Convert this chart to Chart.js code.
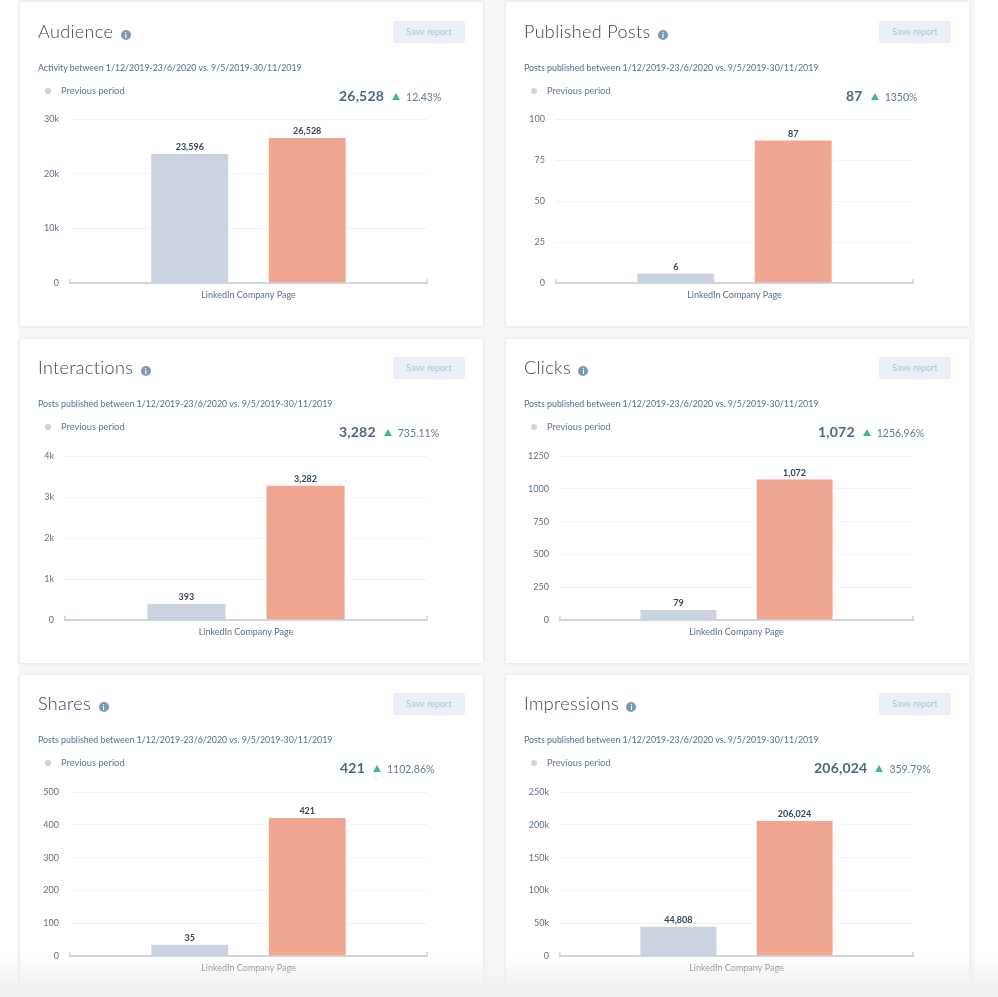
<!DOCTYPE html>
<html lang="en">
<head>
  <meta charset="UTF-8">
  <title>LinkedIn Company Page reports</title>
  <script src="https://cdn.jsdelivr.net/npm/chart.js"></script>
  <style>
    html, body { margin: 0; padding: 0; height: 997px; overflow: hidden; background: #fff; }
    body { font-family: 'Lato', sans-serif; color: #516f90; position: relative; }
    .page { position: absolute; left: 18px; top: 0; width: 957px; height: 997px; background: #f5f8fa; filter: blur(0.4px); }
    .card {
      position: absolute; width: 463px; height: 324px; background: #fff;
      box-shadow: 0 0 4px rgba(45,62,80,0.12);
    }
    .card canvas { position: absolute; left: 0; top: 0; }
    .head { position: absolute; left: 0; width: 463px; height: 110px; z-index: 1; }
    .title {
      position: absolute; left: 18px; top: 16.5px; font-size: 18px; font-weight: 300; line-height: 24px;
      color: #33475b; letter-spacing: 0.35px; white-space: nowrap;
    }
    .info {
      display: inline-block; width: 10px; height: 10px; line-height: 10px; border-radius: 50%;
      margin-left: 7.5px; background: #7c98b6; color: #fff; font-size: 8px; font-weight: 700;
      text-align: center; letter-spacing: 0; vertical-align: 0;
    }
    .save {
      position: absolute; left: 373px; top: 19px; width: 72px; height: 22px; line-height: 22px;
      background: #eaf0f6; color: #b0c1d4; font-size: 9px; text-align: center; border-radius: 2px;
    }
    .sub { position: absolute; left: 18px; top: 60px; font-size: 8.8px; line-height: 12px; white-space: nowrap; }
    .dot { position: absolute; left: 25px; top: 86px; width: 6px; height: 6px; border-radius: 50%; background: #cbd6e2; }
    .legend { position: absolute; left: 41px; top: 83px; font-size: 9.3px; line-height: 12px; color: #5f7a97; }
    .stat { position: absolute; top: 84px; height: 18px; line-height: 18px; white-space: nowrap; }
    .stat b { font-size: 14px; color: #4c6583; letter-spacing: 0.2px; }
    .stat i {
      display: inline-block; width: 0; height: 0; margin: 0 6px 1px 8px;
      border-left: 4.5px solid transparent; border-right: 4.5px solid transparent;
      border-bottom: 7px solid #45b39c;
    }
    .stat span { font-size: 10.5px; color: #5f7a97; }
    .fade {
      position: absolute; left: 0; top: 955px; width: 998px; height: 35px;
      background: linear-gradient(rgba(240,240,240,0), rgba(240,240,240,1));
    }
    .strip { position: absolute; left: 0; top: 990px; width: 998px; height: 7px; background: #f0f0f0; }
  </style>
</head>
<body>
  <div class="page" id="page"></div>
  <div class="fade"></div>
  <div class="strip"></div>

  <script>
    const POSTS = 'Posts published between 1/12/2019-23/6/2020 vs. 9/5/2019-30/11/2019';
    const ACTIVITY = 'Activity between 1/12/2019-23/6/2020 vs. 9/5/2019-30/11/2019';

    const category = 'LinkedIn Company Page';
    const titles = ['Audience', 'Published Posts', 'Interactions', 'Clicks', 'Shares', 'Impressions'];
    const subtitles = [ACTIVITY, POSTS, POSTS, POSTS, POSTS, POSTS];
    const previousValues = [23596, 6, 393, 79, 35, 44808];
    const currentValues = [26528, 87, 3282, 1072, 421, 206024];
    const changes = ['12.43%', '1350%', '735.11%', '1256.96%', '1102.86%', '359.79%'];
    const axisMax = [30000, 100, 4000, 1250, 500, 250000];
    const axisStep = [10000, 25, 1000, 250, 100, 50000];
    const useK = [true, false, true, false, false, true];

    // card position and plot edges, in page pixels
    const cardX = [20, 506, 20, 506, 20, 506];
    const cardY = [2, 2, 339, 339, 675, 675];
    const headY = [0, 0, -1, -1, -1, -1];
    const plotLeft = [70, 556, 65, 560, 70, 560];
    const plotRight = [427, 913, 427, 913, 427, 913];
    const statLeft = [339, 846, 339, 818, 340, 814];

    const CARD_W = 463, CARD_H = 324;
    const PLOT_TOP = 117, PLOT_H = 164, XAXIS_H = 30;
    const FONT = 'Lato';
    const TICK_COLOR = '#5b7086';

    // little upward ticks at both ends of the x axis + value labels over the bars
    const barExtras = {
      id: 'barExtras',
      afterDatasetsDraw(chart) {
        const { ctx, chartArea } = chart;
        ctx.save();
        ctx.strokeStyle = '#cbd6e2';
        ctx.lineWidth = 1.5;
        [chartArea.left, chartArea.right].forEach(x => {
          ctx.beginPath();
          ctx.moveTo(x, chartArea.bottom);
          ctx.lineTo(x, chartArea.bottom - 4);
          ctx.stroke();
        });
        ctx.fillStyle = '#33475b';
        ctx.font = `700 9px ${FONT}`;
        ctx.textAlign = 'center';
        ctx.textBaseline = 'bottom';
        chart.data.datasets.forEach((ds, i) => {
          const bar = chart.getDatasetMeta(i).data[0];
          ctx.fillText(ds.data[0].toLocaleString('en-US'), bar.x, bar.y - 2);
        });
        ctx.restore();
      }
    };

    const page = document.getElementById('page');

    titles.forEach((title, i) => {
      const card = document.createElement('div');
      card.className = 'card';
      card.style.left = (cardX[i] - 18) + 'px';
      card.style.top = cardY[i] + 'px';
      card.innerHTML = `
        <div class="head" style="top:${headY[i]}px">
          <div class="title">${title}<span class="info">i</span></div>
          <div class="save">Save report</div>
          <div class="sub">${subtitles[i]}</div>
          <div class="dot"></div>
          <div class="legend">Previous period</div>
          <div class="stat" style="left:${statLeft[i] - cardX[i]}px"><b>${currentValues[i].toLocaleString('en-US')}</b><i></i><span>${changes[i]}</span></div>
        </div>
        <canvas width="${CARD_W}" height="${CARD_H}"></canvas>`;
      page.appendChild(card);

      const yWidth = plotLeft[i] - cardX[i];
      const barEdge = { left: 3, right: 3, top: 0, bottom: 0 };
      new Chart(card.querySelector('canvas'), {
        type: 'bar',
        data: {
          labels: [category],
          datasets: [
            { label: 'Previous period', data: [previousValues[i]], backgroundColor: '#cbd3e0', borderColor: '#fff', borderWidth: barEdge },
            { label: 'Current period', data: [currentValues[i]], backgroundColor: '#f0a792', borderColor: '#fff', borderWidth: barEdge }
          ]
        },
        options: {
          responsive: false,
          animation: false,
          events: [],
          categoryPercentage: 0.658,
          barPercentage: 0.706,
          layout: {
            padding: {
              top: PLOT_TOP,
              right: CARD_W - (plotRight[i] - cardX[i]),
              bottom: CARD_H - PLOT_TOP - PLOT_H - XAXIS_H,
              left: 0
            }
          },
          plugins: { legend: { display: false }, tooltip: { enabled: false } },
          scales: {
            x: {
              grid: { display: false },
              border: { color: '#cbd6e2', width: 2 },
              ticks: { color: TICK_COLOR, font: { family: FONT, size: 9 }, padding: -1 },
              afterFit(scale) { scale.height = XAXIS_H; }
            },
            y: {
              min: 0,
              max: axisMax[i],
              grid: { color: '#eff2f6', lineWidth: 1, drawTicks: false },
              border: { display: false },
              ticks: {
                stepSize: axisStep[i],
                color: TICK_COLOR,
                padding: 11,
                font: { family: FONT, size: 9 },
                callback: v => (useK[i] && v > 0) ? (v / 1000) + 'k' : v
              },
              afterFit(scale) { scale.width = yWidth; }
            }
          }
        },
        plugins: [barExtras]
      });
    });
  </script>
</body>
</html>
